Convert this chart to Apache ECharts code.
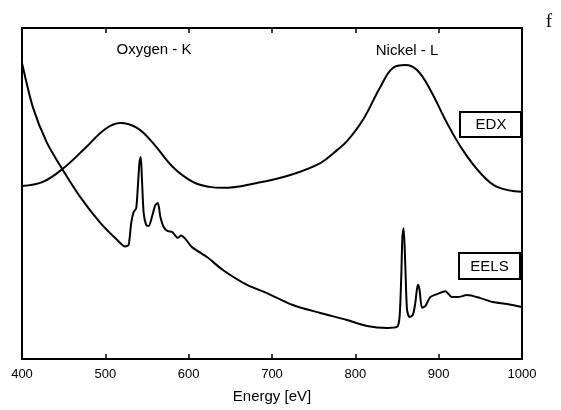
<!DOCTYPE html>
<html>
<head>
<meta charset="utf-8">
<script src="https://cdn.jsdelivr.net/npm/echarts@6/dist/echarts.min.js"></script>
<style>
html,body{margin:0;padding:0;background:#fff;}
#c{width:561px;height:410px;}
</style>
</head>
<body>
<div id="c"></div>
<script>
// Energy axis ticks
const xTicks = [400, 500, 600, 700, 800, 900, 1000];

// EDX spectrum (energy eV, intensity a.u.)
const edxEnergy = [400, 425, 450, 475, 500, 518, 538, 557, 581, 605, 625, 641, 682, 722, 758, 778, 790, 809, 830, 845, 860, 874, 890, 910, 929, 950, 970, 1000];
const edxValue  = [52.3, 53.5, 57.7, 63.5, 69.5, 71.3, 69.8, 65.3, 58.0, 53.5, 52.0, 51.7, 53.2, 55.6, 59.2, 63.1, 65.8, 72.2, 82.2, 87.9, 88.8, 87.3, 81.3, 71.3, 63.1, 56.2, 52.0, 50.5];

// EELS spectrum (energy eV, intensity a.u.)
const eelsEnergy = [400, 413, 430, 449, 470, 494, 514, 524, 528, 531, 534, 537, 539, 541, 542.5, 544, 546, 549, 552, 556, 560, 563, 566, 570, 575, 580, 587, 591, 596, 604, 622, 641, 670, 694, 725, 758, 790, 814, 838, 850, 853, 855, 856.5, 858, 860, 862, 865, 869, 872, 875, 877, 880, 884, 890, 898, 908, 916, 923, 934, 950, 965, 982, 1000];
const eelsValue  = [89.4, 76.1, 65.3, 57.1, 48.9, 41.1, 36.0, 34.0, 34.5, 41.0, 44.4, 45.5, 52.0, 59.5, 61.0, 54.0, 44.1, 40.5, 40.2, 43.0, 46.5, 47.1, 43.0, 39.9, 38.6, 38.4, 36.6, 37.3, 36.3, 33.8, 30.8, 26.9, 22.4, 19.9, 16.3, 13.9, 11.8, 10.0, 9.4, 9.7, 12.5, 24.0, 37.0, 39.5, 28.0, 15.0, 12.7, 13.3, 17.0, 22.4, 21.0, 15.5, 16.0, 18.7, 19.6, 20.5, 18.7, 18.7, 19.3, 18.4, 17.2, 16.6, 15.7];

const edxData = edxEnergy.map((e, i) => [e, edxValue[i]]);
const eelsData = eelsEnergy.map((e, i) => [e, eelsValue[i]]);

const chart = echarts.init(document.getElementById('c'), null, {renderer: 'canvas'});
const labelFont = '"Liberation Sans", Arial, sans-serif';

chart.setOption({
  animation: false,
  backgroundColor: '#fff',
  grid: {left: 22, right: 39, top: 28, bottom: 51, show: false},
  xAxis: [
    {
      type: 'value', min: 400, max: 1000, interval: 100, position: 'bottom',
      axisLine: {show: true, onZero: false, lineStyle: {color: '#000', width: 2}},
      axisTick: {show: true, inside: true, length: 5, lineStyle: {color: '#000', width: 1.5}},
      axisLabel: {color: '#000', fontSize: 13, fontFamily: labelFont, margin: 9,
        formatter: v => xTicks.includes(v) ? String(v) : ''},
      splitLine: {show: false},
      name: 'Energy [eV]', nameLocation: 'middle', nameGap: 30,
      nameTextStyle: {color: '#000', fontSize: 15, fontFamily: labelFont}
    },
    {
      type: 'value', min: 400, max: 1000, interval: 100, position: 'top',
      axisLine: {show: true, onZero: false, lineStyle: {color: '#000', width: 2}},
      axisTick: {show: true, inside: true, length: 5, lineStyle: {color: '#000', width: 1.5}},
      axisLabel: {show: false}, splitLine: {show: false}
    }
  ],
  yAxis: [
    {
      type: 'value', min: 0, max: 100, position: 'left',
      axisLine: {show: true, onZero: false, lineStyle: {color: '#000', width: 2}},
      axisTick: {show: false}, axisLabel: {show: false}, splitLine: {show: false}
    },
    {
      type: 'value', min: 0, max: 100, position: 'right',
      axisLine: {show: true, onZero: false, lineStyle: {color: '#000', width: 2}},
      axisTick: {show: false}, axisLabel: {show: false}, splitLine: {show: false}
    }
  ],
  series: [
    {
      name: 'EDX', type: 'line', data: edxData, showSymbol: false, symbol: 'none',
      smooth: 0.4, lineStyle: {color: '#000', width: 2}
    },
    {
      name: 'EELS', type: 'line', data: eelsData, showSymbol: false, symbol: 'none',
      smooth: 0.25, lineStyle: {color: '#000', width: 2}
    }
  ],
  graphic: [
    {type: 'text', x: 154, y: 50, style: {text: 'Oxygen - K', fill: '#000', font: '15px ' + labelFont, textAlign: 'center', textVerticalAlign: 'middle'}},
    {type: 'text', x: 407, y: 51, style: {text: 'Nickel - L', fill: '#000', font: '15px ' + labelFont, textAlign: 'center', textVerticalAlign: 'middle'}},
    {type: 'text', x: 549, y: 22, style: {text: 'f', fill: '#000', font: '19px "Liberation Serif", "DejaVu Serif", serif', textAlign: 'center', textVerticalAlign: 'middle'}},
    {type: 'rect', shape: {x: 460, y: 112, width: 61, height: 25}, style: {fill: '#fff', stroke: '#000', lineWidth: 2}},
    {type: 'text', x: 491, y: 125, style: {text: 'EDX', fill: '#000', font: '15px ' + labelFont, textAlign: 'center', textVerticalAlign: 'middle'}},
    {type: 'rect', shape: {x: 459, y: 253, width: 61, height: 26}, style: {fill: '#fff', stroke: '#000', lineWidth: 2}},
    {type: 'text', x: 489.5, y: 267, style: {text: 'EELS', fill: '#000', font: '15px ' + labelFont, textAlign: 'center', textVerticalAlign: 'middle'}}
  ]
});
</script>
</body>
</html>
